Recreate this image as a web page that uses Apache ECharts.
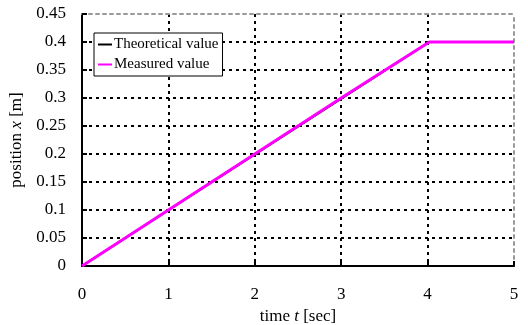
<!DOCTYPE html>
<html><head><meta charset="utf-8">
<script src="https://cdn.jsdelivr.net/npm/echarts@6/dist/echarts.min.js"></script>
<style>html,body{margin:0;padding:0;background:#fff}#c{width:528px;height:325px}</style>
</head><body><div id="c"></div>
<script>
var timeTheory = [0, 4.02, 5];
var posTheory = [0, 0.4, 0.4];
var timeMeasured = [0, 0.5, 1, 2, 3, 4.02, 5];
var posMeasured = [0, 0.05, 0.1, 0.2, 0.3, 0.4, 0.4];
var seriesNames = ['Theoretical value', 'Measured value'];

function pairs(xs, ys){ return xs.map(function(x,i){return [x, ys[i]];}); }
var F = 'Liberation Serif, Times New Roman, serif';
var chart = echarts.init(document.getElementById('c'));
chart.setOption({
  animation:false,
  backgroundColor:'#fff',
  textStyle:{fontFamily:F},
  grid:{left:82,right:14,top:14,bottom:59,containLabel:false,outerBoundsMode:'none'},
  legend:{
    left:94, top:33, orient:'vertical', icon:'rect', itemWidth:14, itemHeight:2, itemGap:5,
    padding:[4,4,4,4], borderColor:'#000', borderWidth:1, backgroundColor:'#fff',
    textStyle:{fontFamily:F, fontSize:15, color:'#000', padding:[0,0,0,-3]},
    data:seriesNames
  },
  xAxis:[{
    type:'value', min:0, max:5, interval:1,
    axisLine:{onZero:false,lineStyle:{color:'#000',width:2}},
    axisTick:{inside:true,length:5,lineStyle:{color:'#000',width:2}},
    axisLabel:{color:'#000',fontSize:17,margin:20,fontFamily:F},
    splitLine:{show:true,showMaxLine:false,lineStyle:{color:'#000',width:2,type:[3,4]}},
    name:'{a|time }{i|t}{a| [sec]}', nameLocation:'middle', nameGap:35,
    nameTextStyle:{rich:{a:{fontFamily:F,fontSize:17,color:'#000'},i:{fontFamily:F,fontSize:17,fontStyle:'italic',color:'#000'}}}
  },{
    type:'value', position:'top', min:0, max:5, interval:1,
    axisLine:{show:true,onZero:false,lineStyle:{color:'#999',width:2,type:[3,4]}},
    axisTick:{show:false}, axisLabel:{show:false}, splitLine:{show:false}
  }],
  yAxis:[{
    type:'value', min:0, max:0.45, interval:0.05,
    axisLine:{show:true,onZero:false,lineStyle:{color:'#000',width:2}},
    axisTick:{show:true,inside:true,length:5,lineStyle:{color:'#000',width:2}},
    axisLabel:{color:'#000',fontSize:17,margin:16,fontFamily:F},
    splitLine:{show:true,showMaxLine:false,lineStyle:{color:'#000',width:2,type:[3,4]}},
    name:'{a|position }{i|x}{a| [m]}', nameLocation:'middle', nameGap:52,
    nameTextStyle:{rich:{a:{fontFamily:F,fontSize:17,color:'#000'},i:{fontFamily:F,fontSize:17,fontStyle:'italic',color:'#000'}}}
  },{
    type:'value', position:'right', min:0, max:0.45, interval:0.05,
    axisLine:{show:true,onZero:false,lineStyle:{color:'#999',width:2,type:[3,4]}},
    axisTick:{show:false}, axisLabel:{show:false}, splitLine:{show:false}
  }],
  series:[{
    name:seriesNames[0], type:'line', showSymbol:false, symbol:'none',
    data:pairs(timeTheory,posTheory), lineStyle:{color:'#000',width:2}, itemStyle:{color:'#000'}, z:3
  },{
    name:seriesNames[1], type:'line', showSymbol:false, symbol:'none',
    data:pairs(timeMeasured,posMeasured), lineStyle:{color:'#ff00ff',width:3}, itemStyle:{color:'#ff00ff'}, z:4
  }]
});
</script></body></html>
